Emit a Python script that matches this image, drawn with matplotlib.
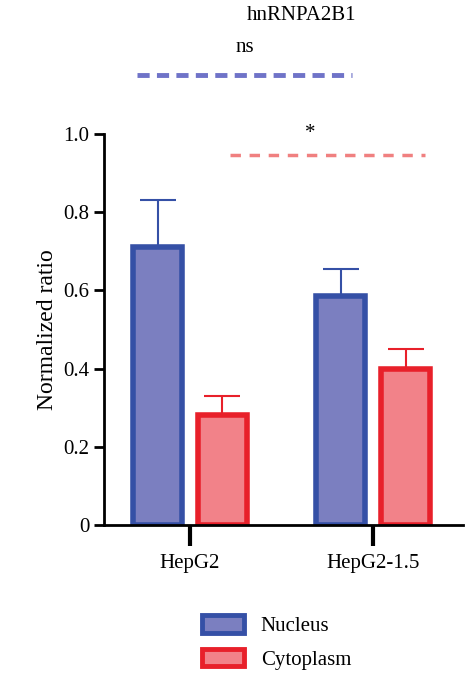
import matplotlib
matplotlib.use("Agg")
import matplotlib.pyplot as plt
from matplotlib.patches import Patch

plt.rcParams['font.family'] = ['Liberation Serif']

groups = ["HepG2", "HepG2-1.5"]
nucleus = [0.71, 0.585]
nucleus_err = [0.12, 0.07]
cytoplasm = [0.28, 0.40]
cytoplasm_err = [0.05, 0.05]

nf, ne = "#7b7fc0", "#3550a6"
cf, ce = "#f28289", "#e8202a"

fig = plt.figure(figsize=(4.71, 6.85), dpi=100)
ax = fig.add_axes([0.2208, 0.2336, 0.762, 0.571])
x = [0, 1]
off, w = 0.177, 0.27
for i in range(2):
    ax.bar(x[i]-off, nucleus[i], w, color=nf, edgecolor=ne, linewidth=4)
    ax.errorbar(x[i]-off, nucleus[i], yerr=[[0], [nucleus_err[i]]], color=ne, capsize=13, lw=1.5, capthick=1.5)
    ax.bar(x[i]+off, cytoplasm[i], w, color=cf, edgecolor=ce, linewidth=4)
    ax.errorbar(x[i]+off, cytoplasm[i], yerr=[[0], [cytoplasm_err[i]]], color=ce, capsize=13, lw=1.5, capthick=1.5)

ax.set_xlim(-0.47, 1.49)
ax.set_ylim(0, 1.0)
ax.set_yticks([0, 0.2, 0.4, 0.6, 0.8, 1.0])
ax.set_yticklabels(["0", "0.2", "0.4", "0.6", "0.8", "1.0"])
ax.set_xticks(x)
ax.set_xticklabels(groups)
ax.tick_params(labelsize=15, width=2, length=7)
ax.tick_params(axis='x', length=15, width=3, pad=6)
for s in ["top", "right"]:
    ax.spines[s].set_visible(False)
for s in ["left", "bottom"]:
    ax.spines[s].set_linewidth(2)
ax.set_ylabel("Normalized ratio", fontsize=17)

ax.plot([-0.29, 0.885], [1.151, 1.151], ls=(0, (2.5, 1.5)), color="#6f73c8", lw=3.5, clip_on=False)
ax.text(0.30, 1.22, "ns", ha="center", va="center", fontsize=15, clip_on=False)
ax.plot([0.219, 1.284], [0.945, 0.945], ls=(0, (3, 2.5)), color="#f08080", lw=2.5, clip_on=False)
ax.text(0.656, 1.0, "*", ha="center", va="center", fontsize=15)
fig.text(0.64, 0.978, "hnRNPA2B1", ha="center", va="center", fontsize=15)

handles = [Patch(facecolor=nf, edgecolor=ne, linewidth=3.5), Patch(facecolor=cf, edgecolor=ce, linewidth=3.5)]
fig.legend(handles, ["Nucleus", "Cytoplasm"], loc="center left", bbox_to_anchor=(0.39, 0.062),
           frameon=False, fontsize=15, handlelength=2.0, handleheight=0.9, labelspacing=0.6)

fig.savefig("out.png", dpi=100)
